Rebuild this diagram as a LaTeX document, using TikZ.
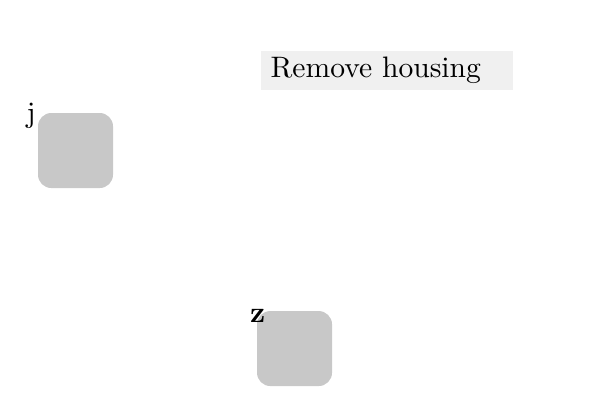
\documentclass[tikz,border=0pt]{standalone}
\usepackage{tikz}
\usetikzlibrary{positioning}
\definecolor{stepfill}{HTML}{F0F0F0}
\definecolor{partfill}{HTML}{C8C8C8}

\begin{document}
\begin{tikzpicture}[node distance=2.5cm,
    stepbox/.style={fill=stepfill, minimum width=3cm, minimum height=13.2pt,
      inner xsep=3.4pt, inner ysep=2.1pt, text width=3cm-6.8pt, align=left},
    part/.style={fill=partfill, rounded corners=4.5pt, minimum size=0.89cm, inner sep=0pt},
    tag/.style={inner sep=0.4pt}]
  \useasboundingbox (0,0) rectangle (7.12,4.75);
  \node(j) at (0.896,2.964) [part] {};
  \node(z) at (3.495,0.614) [part] {};
  \node(remove) at (3.085,3.925) [stepbox, anchor=west, yshift=-0.4pt] {Remove housing};
  \node(jtag) at (j.north west) [tag, anchor=east, yshift=-1pt] {j};
  \node(ztag) at (z.north west) [tag, xshift=0.4pt, yshift=-2pt] {\textbf{z}};
\end{tikzpicture}
\end{document}
